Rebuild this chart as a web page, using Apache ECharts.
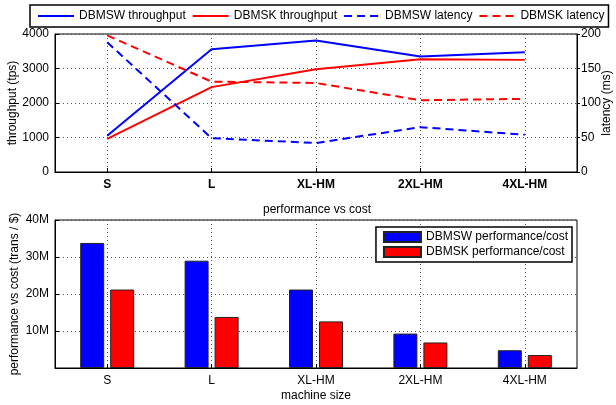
<!DOCTYPE html>
<html>
<head>
<meta charset="utf-8">
<script src="https://cdn.jsdelivr.net/npm/echarts@6/dist/echarts.min.js"></script>
<style>
  html, body { margin: 0; padding: 0; background: #fff; }
  #chart { width: 616px; height: 405px; }
</style>
</head>
<body>
<div id="chart"></div>
<script>
// machine sizes
const categories = ['S', 'L', 'XL-HM', '2XL-HM', '4XL-HM']
// top plot: throughput (tps) and latency (ms)
const throughputW = [1050, 3560, 3810, 3350, 3470]
const throughputK = [960, 2460, 2980, 3270, 3250]
const latencyW = [188, 49, 42, 65, 54]
const latencyK = [198, 131, 129, 104, 106]
// bottom plot: performance vs cost, in millions of trans / $
const perfCostW = [33.8, 29.0, 21.2, 9.3, 4.8]
const perfCostK = [21.2, 13.8, 12.6, 6.9, 3.5]
const perfTicks = ['', '10M', '20M', '30M', '40M']

const font = "'Liberation Sans', Arial, sans-serif"
const blue = '#0000ff'
const red = '#ff0000'
const dotted = { color: '#555', width: 1, type: [1, 3] }

const chart = echarts.init(document.getElementById('chart'))

const catAxis = (gridIndex, bold, name) => ({
  type: 'category',
  gridIndex: gridIndex,
  data: categories,
  name: name,
  nameLocation: 'middle',
  nameGap: 22,
  nameTextStyle: { color: '#000', fontSize: 12, fontFamily: font },
  axisLine: { show: true, lineStyle: { color: '#000', width: 1 } },
  axisTick: { show: true, inside: true, alignWithLabel: true, length: 4, lineStyle: { color: '#000' } },
  axisLabel: { color: '#000', fontSize: 12, fontFamily: font, fontWeight: bold ? 'bold' : 'normal', margin: 7 },
  splitLine: { show: true, alignWithLabel: true, lineStyle: dotted }
})

chart.setOption({
  animation: false,
  textStyle: { fontFamily: font },
  title: {
    text: 'performance vs cost',
    left: 258,
    top: 199,
    textStyle: { color: '#000', fontSize: 12, fontWeight: 'normal', fontFamily: font }
  },
  legend: [{
    data: ['DBMSW throughput', 'DBMSK throughput', 'DBMSW latency', 'DBMSK latency'],
    left: 30,
    top: 5,
    width: 580,
    padding: [5, 4, 5, 7],
    itemGap: 6,
    itemWidth: 36,
    itemHeight: 12,
    itemStyle: { opacity: 0 },
    lineStyle: { width: 2 },
    borderColor: '#000',
    borderWidth: 1.5,
    backgroundColor: '#fff',
    textStyle: { color: '#000', fontSize: 12, fontFamily: font }
  }, {
    data: ['DBMSW performance/cost', 'DBMSK performance/cost'],
    orient: 'vertical',
    right: 44,
    top: 227,
    padding: [4, 4, 4, 7],
    itemGap: 3,
    itemWidth: 37,
    itemHeight: 10,
    icon: 'rect',
    borderColor: '#000',
    borderWidth: 1.5,
    backgroundColor: '#fff',
    textStyle: { color: '#000', fontSize: 12, fontFamily: font }
  }],
  grid: [
    { left: 55, right: 39, top: 34, height: 138, containLabel: false, outerBoundsMode: 'none', show: true, borderColor: '#000', borderWidth: 1 },
    { left: 55, right: 39, top: 220, height: 148, containLabel: false, outerBoundsMode: 'none', show: true, borderColor: '#000', borderWidth: 1 }
  ],
  xAxis: [
    catAxis(0, true, ''),
    catAxis(1, false, 'machine size')
  ],
  yAxis: [{
    type: 'value',
    gridIndex: 0,
    min: 0,
    max: 4000,
    interval: 1000,
    name: 'throughput (tps)',
    nameLocation: 'middle',
    nameMoveOverlap: false,
    nameGap: 36,
    nameTextStyle: { color: '#000', fontSize: 12, fontFamily: font },
    axisLine: { show: true, lineStyle: { color: '#000' } },
    axisTick: { show: true, inside: true, length: 4, lineStyle: { color: '#000' } },
    axisLabel: { color: '#000', fontSize: 12, fontFamily: font, margin: 6, formatter: (v) => String(v) },
    splitLine: { show: true, lineStyle: dotted }
  }, {
    type: 'value',
    gridIndex: 0,
    position: 'right',
    min: 0,
    max: 200,
    interval: 50,
    name: 'latency (ms)',
    nameLocation: 'middle',
    nameMoveOverlap: false,
    nameRotate: 90,
    nameGap: 24,
    nameTextStyle: { color: '#000', fontSize: 12, fontFamily: font },
    axisLine: { show: true, lineStyle: { color: '#000' } },
    axisTick: { show: true, inside: false, length: 3, lineStyle: { color: '#000' } },
    axisLabel: { color: '#000', fontSize: 12, fontFamily: font, margin: 4 },
    splitLine: { show: false }
  }, {
    type: 'value',
    gridIndex: 1,
    min: 0,
    max: 40,
    interval: 10,
    name: 'performance vs cost (trans / $)',
    nameLocation: 'middle',
    nameMoveOverlap: false,
    nameGap: 34,
    nameTextStyle: { color: '#000', fontSize: 12, fontFamily: font },
    axisLine: { show: true, lineStyle: { color: '#000' } },
    axisTick: { show: true, inside: true, length: 4, lineStyle: { color: '#000' } },
    axisLabel: {
      color: '#000', fontSize: 12, fontFamily: font, margin: 6,
      formatter: (v) => perfTicks[v / 10]
    },
    splitLine: { show: true, lineStyle: dotted }
  }],
  series: [{
    name: 'DBMSW throughput',
    type: 'line',
    xAxisIndex: 0,
    yAxisIndex: 0,
    symbol: 'none',
    data: throughputW,
    lineStyle: { color: blue, width: 2 },
    itemStyle: { color: blue }
  }, {
    name: 'DBMSK throughput',
    type: 'line',
    xAxisIndex: 0,
    yAxisIndex: 0,
    symbol: 'none',
    data: throughputK,
    lineStyle: { color: red, width: 2 },
    itemStyle: { color: red }
  }, {
    name: 'DBMSW latency',
    type: 'line',
    xAxisIndex: 0,
    yAxisIndex: 1,
    symbol: 'none',
    data: latencyW,
    lineStyle: { color: blue, width: 2, type: [8, 5] },
    itemStyle: { color: blue }
  }, {
    name: 'DBMSK latency',
    type: 'line',
    xAxisIndex: 0,
    yAxisIndex: 1,
    symbol: 'none',
    data: latencyK,
    lineStyle: { color: red, width: 2, type: [8, 5] },
    itemStyle: { color: red }
  }, {
    name: 'DBMSW performance/cost',
    type: 'bar',
    xAxisIndex: 1,
    yAxisIndex: 2,
    barWidth: 24,
    barGap: '25%',
    data: perfCostW,
    itemStyle: { color: blue, borderColor: '#222', borderWidth: 1 }
  }, {
    name: 'DBMSK performance/cost',
    type: 'bar',
    xAxisIndex: 1,
    yAxisIndex: 2,
    barWidth: 24,
    barGap: '25%',
    data: perfCostK,
    itemStyle: { color: red, borderColor: '#222', borderWidth: 1 }
  }]
})
</script>
</body>
</html>
